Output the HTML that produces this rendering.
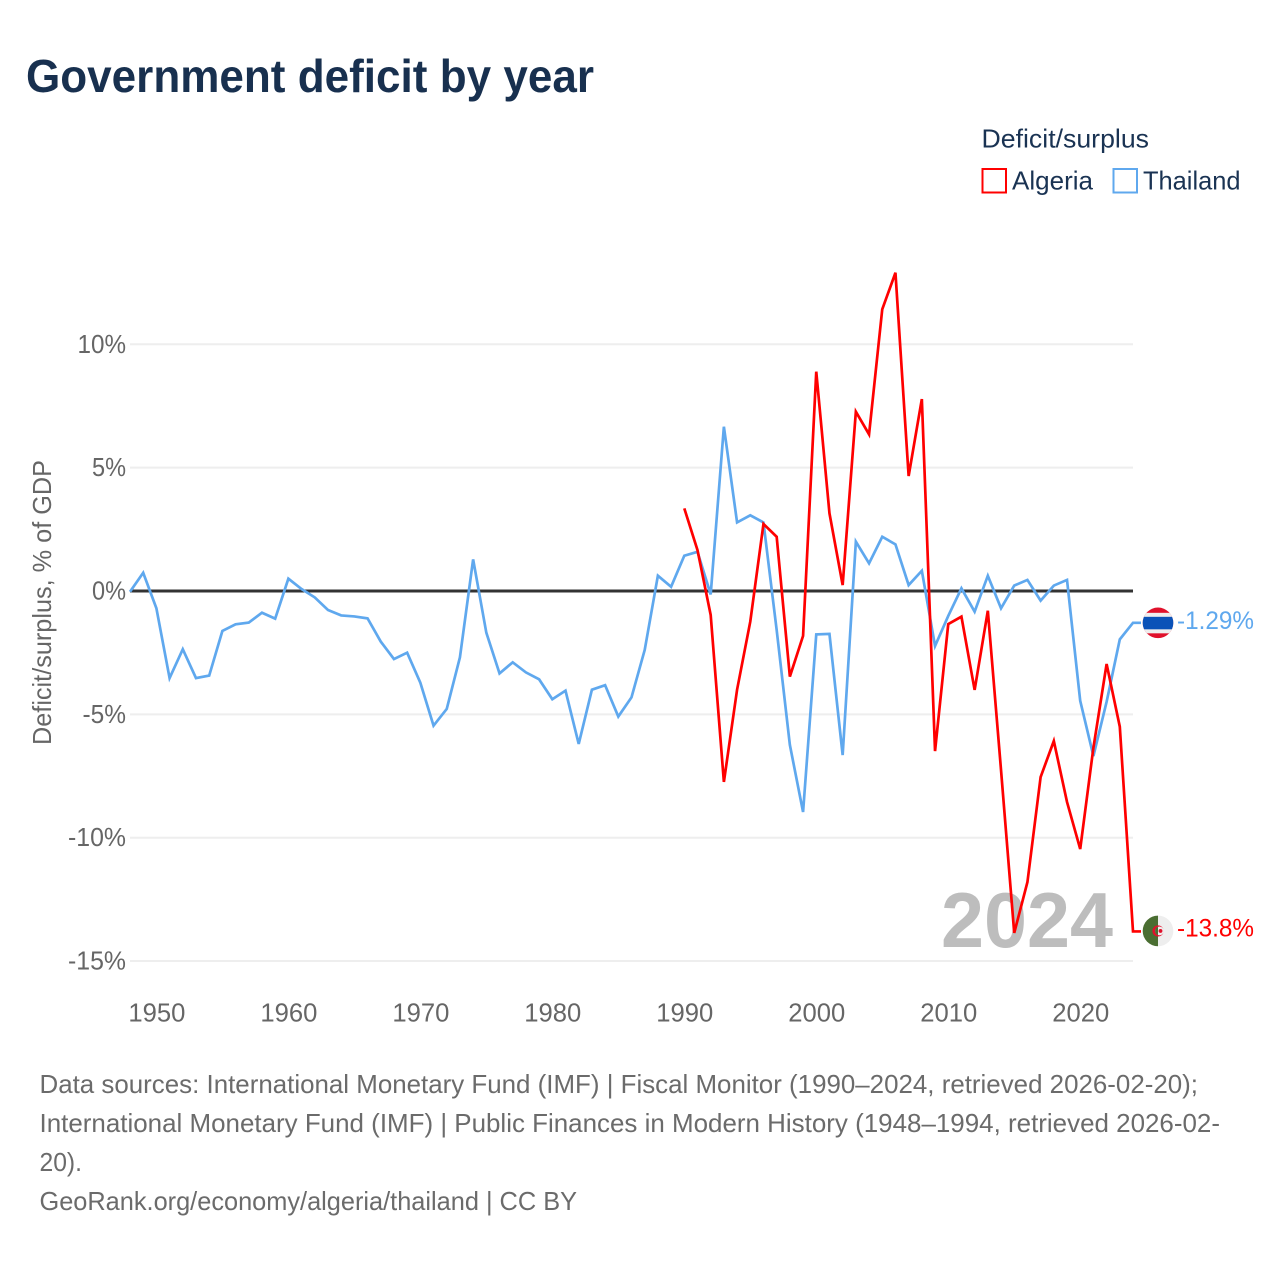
<!DOCTYPE html>
<html lang="en">
<head>
<meta charset="utf-8">
<title>Government deficit by year</title>
<style>
  html, body { margin: 0; padding: 0; background: #fff; }
  svg { display: block; font-family: "Liberation Sans", sans-serif; }
</style>
</head>
<body>
<svg id="chart" width="1280" height="1280" viewBox="0 0 1280 1280" xmlns="http://www.w3.org/2000/svg">
  <rect width="1280" height="1280" fill="#fff"/>
  <text x="26" y="92" font-size="46" font-weight="700" fill="#18304f" textLength="568" lengthAdjust="spacingAndGlyphs">Government deficit by year</text>

  <g>
    <text x="981.5" y="147.5" font-size="26" fill="#1a3353" textLength="167.5" lengthAdjust="spacingAndGlyphs">Deficit/surplus</text>
    <g>
      <rect x="982.5" y="169" width="23.5" height="23.5" fill="#fff" stroke="#ff0000" stroke-width="2"/>
      <text x="1012" y="189.5" font-size="26" fill="#1a3353" textLength="81" lengthAdjust="spacingAndGlyphs">Algeria</text>
    </g>
    <g>
      <rect x="1113.5" y="169" width="23.5" height="23.5" fill="#fff" stroke="#5fa8ee" stroke-width="2"/>
      <text x="1143" y="189.5" font-size="26" fill="#1a3353" textLength="97.5" lengthAdjust="spacingAndGlyphs">Thailand</text>
    </g>
  </g>

  <text transform="translate(51,602.5) rotate(-90)" text-anchor="middle" font-size="26" fill="#666" textLength="285" lengthAdjust="spacingAndGlyphs">Deficit/surplus, % of GDP</text>

  <g id="grid"></g>
  <g id="yticks"></g>
  <g id="xticks"></g>

  <text x="941" y="947" font-size="78" font-weight="700" fill="#bdbdbd" textLength="172" lengthAdjust="spacingAndGlyphs">2024</text>

  <g id="series"></g>

  <g font-size="26" fill="#6b6b6b">
    <text x="39.5" y="1093" textLength="1158.5" lengthAdjust="spacingAndGlyphs">Data sources: International Monetary Fund (IMF) | Fiscal Monitor (1990–2024, retrieved 2026-02-20);</text>
    <text x="39.5" y="1132" textLength="1180.5" lengthAdjust="spacingAndGlyphs">International Monetary Fund (IMF) | Public Finances in Modern History (1948–1994, retrieved 2026-02-</text>
    <text x="39.5" y="1171" textLength="42.5" lengthAdjust="spacingAndGlyphs">20).</text>
    <text x="39.5" y="1210" textLength="537.5" lengthAdjust="spacingAndGlyphs">GeoRank.org/economy/algeria/thailand | CC BY</text>
  </g>
</svg>

<script>
const years = [1948,1949,1950,1951,1952,1953,1954,1955,1956,1957,1958,1959,1960,1961,1962,1963,1964,1965,1966,1967,1968,1969,1970,1971,1972,1973,1974,1975,1976,1977,1978,1979,1980,1981,1982,1983,1984,1985,1986,1987,1988,1989,1990,1991,1992,1993,1994,1995,1996,1997,1998,1999,2000,2001,2002,2003,2004,2005,2006,2007,2008,2009,2010,2011,2012,2013,2014,2015,2016,2017,2018,2019,2020,2021,2022,2023,2024];
const thailandValues = [-0.03,0.74,-0.7,-3.53,-2.36,-3.53,-3.43,-1.62,-1.35,-1.28,-0.88,-1.12,0.5,0.08,-0.26,-0.77,-0.99,-1.03,-1.11,-2.05,-2.76,-2.5,-3.72,-5.46,-4.78,-2.69,1.28,-1.69,-3.34,-2.89,-3.3,-3.58,-4.39,-4.04,-6.2,-4.0,-3.82,-5.09,-4.31,-2.39,0.62,0.17,1.43,1.59,-0.14,6.66,2.78,3.07,2.78,-1.58,-6.24,-8.96,-1.76,-1.74,-6.65,2.0,1.12,2.2,1.89,0.24,0.82,-2.23,-1.01,0.11,-0.84,0.62,-0.7,0.22,0.45,-0.39,0.22,0.45,-4.45,-6.69,-4.49,-1.96,-1.29];
const algeriaYears = [1990,1991,1992,1993,1994,1995,1996,1997,1998,1999,2000,2001,2002,2003,2004,2005,2006,2007,2008,2009,2010,2011,2012,2013,2014,2015,2016,2017,2018,2019,2020,2021,2022,2023,2024];
const algeriaValues = [3.35,1.66,-0.97,-7.74,-4.0,-1.24,2.72,2.2,-3.47,-1.82,8.89,3.15,0.24,7.27,6.35,11.42,12.9,4.66,7.78,-6.49,-1.34,-1.04,-4.01,-0.8,-7.26,-13.86,-11.8,-7.54,-6.08,-8.55,-10.46,-6.35,-2.96,-5.5,-13.8];
const yTickValues = [10,5,0,-5,-10,-15];
const yTickLabels = ["10%","5%","0%","-5%","-10%","-15%"];
const xTickValues = [1950,1960,1970,1980,1990,2000,2010,2020];
const xTickLabels = ["1950","1960","1970","1980","1990","2000","2010","2020"];
const thailandEndLabel = "-1.29%";
const algeriaEndLabel = "-13.8%";

const NS = "http://www.w3.org/2000/svg";
const X0 = 130, X1 = 1133, Y_ZERO = 591, PX_PER_PCT = 24.67;
const xScale = function (yr) { return X0 + (yr - 1948) * (X1 - X0) / (2024 - 1948); };
const yScale = function (v) { return Y_ZERO - v * PX_PER_PCT; };

function make(tag, attrs, parent) {
  const el = document.createElementNS(NS, tag);
  Object.keys(attrs).forEach(function (k) { el.setAttribute(k, attrs[k]); });
  parent.appendChild(el);
  return el;
}

/* width of a percent tick label in the reference's narrower digit and % metrics */
function tickLabelWidth(label) {
  let w = 0;
  for (const ch of label) { w += ch === "%" ? 19.5 : ch === "-" ? 9.5 : 14.5; }
  return w;
}

const gridG = document.getElementById("grid");
const yG = document.getElementById("yticks");
const xG = document.getElementById("xticks");
const seriesG = document.getElementById("series");

yTickValues.forEach(function (v, i) {
  const gy = yScale(v);
  if (v !== 0) {
    const ln = make("line", {x1: X0, x2: X1, y1: gy, y2: gy, stroke: "#eeeeee", "stroke-width": 2}, gridG);
    
    
  }
  const t = make("text", {x: 126, y: gy + 8.5, "text-anchor": "end", "font-size": 25.5, fill: "#666", textLength: tickLabelWidth(yTickLabels[i]), lengthAdjust: "spacingAndGlyphs"}, yG);
  t.textContent = yTickLabels[i];
  
  
});

xTickValues.forEach(function (v, i) {
  const t = make("text", {x: xScale(v) + 0.5, y: 1021.5, "text-anchor": "middle", "font-size": 25.5, fill: "#666", textLength: 57, lengthAdjust: "spacingAndGlyphs"}, xG);
  t.textContent = xTickLabels[i];
  
  
});

function pointsFor(xs, vs) {
  const pts = xs.map(function (yr, i) { return xScale(yr).toFixed(2) + "," + yScale(vs[i]).toFixed(2); });
  pts.push("1141," + yScale(vs[vs.length - 1]).toFixed(2));
  return pts.join(" ");
}

const zeroLine = make("line", {x1: X0, x2: X1, y1: yScale(0), y2: yScale(0), stroke: "#333333", "stroke-width": 3}, seriesG);



const thaiLine = make("polyline", {points: pointsFor(years, thailandValues), fill: "none", stroke: "#5fa8ee", "stroke-width": 2.7, "stroke-linejoin": "miter"}, seriesG);



const algLine = make("polyline", {points: pointsFor(algeriaYears, algeriaValues), fill: "none", stroke: "#ff0000", "stroke-width": 2.7, "stroke-linejoin": "miter"}, seriesG);



/* flags */
const thaiY = yScale(thailandValues[thailandValues.length - 1]);
const algY = yScale(algeriaValues[algeriaValues.length - 1]) - 0.5;
const defs = make("defs", {}, seriesG);
const cpT = make("clipPath", {id: "clip-th"}, defs);
make("circle", {cx: 1158, cy: thaiY, r: 15.3}, cpT);
const cpA = make("clipPath", {id: "clip-dz"}, defs);
make("circle", {cx: 1158, cy: algY, r: 15.3}, cpA);

const thFlag = make("g", {"clip-path": "url(#clip-th)"}, seriesG);


make("rect", {x: 1142, y: thaiY - 16, width: 32, height: 32, fill: "#e0112b"}, thFlag);
make("rect", {x: 1142, y: thaiY - 10, width: 32, height: 20.5, fill: "#eeeeee"}, thFlag);
make("rect", {x: 1142, y: thaiY - 6, width: 32, height: 12.5, fill: "#0a52b8"}, thFlag);

const dzFlag = make("g", {"clip-path": "url(#clip-dz)"}, seriesG);


make("rect", {x: 1142, y: algY - 16, width: 16, height: 32, fill: "#4a6e32"}, dzFlag);
make("rect", {x: 1158, y: algY - 16, width: 16, height: 32, fill: "#eeeeee"}, dzFlag);
make("circle", {cx: 1158, cy: algY, r: 5.6, fill: "#e0112b"}, dzFlag);
make("circle", {cx: 1159.5, cy: algY, r: 4.4, fill: "#eeeeee"}, dzFlag);
make("path", {d: "M1158 " + (algY - 4.14) + "A4.4 4.4 0 0 0 1158 " + (algY + 4.14) + "Z", fill: "#4a6e32"}, dzFlag);
make("circle", {cx: 1160.5, cy: algY, r: 1.9, fill: "#e0112b"}, dzFlag);

/* end labels */
const thLab = make("text", {x: 1177, y: thaiY + 6, "font-size": 25, fill: "#5fa8ee", textLength: 77, lengthAdjust: "spacingAndGlyphs"}, seriesG);
thLab.textContent = thailandEndLabel;



const dzLab = make("text", {x: 1177, y: algY + 5.8, "font-size": 25, fill: "#ff0000", textLength: 77, lengthAdjust: "spacingAndGlyphs"}, seriesG);
dzLab.textContent = algeriaEndLabel;


</script>
</body>
</html>
